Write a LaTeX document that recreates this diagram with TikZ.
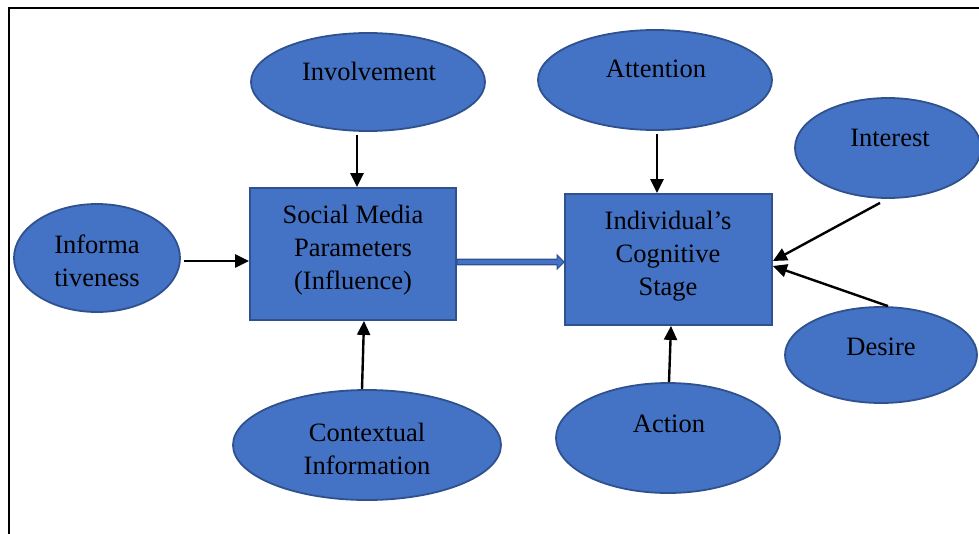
\documentclass[tikz,border=0pt]{standalone}
\usepackage{fontspec}
\setmainfont{Liberation Serif}
\usetikzlibrary{shapes.geometric,arrows.meta,calc}
\definecolor{fillblue}{HTML}{4472C4}
\definecolor{edgeblue}{HTML}{2F528F}
\tikzset{
  oval/.style={ellipse, draw=edgeblue, fill=fillblue, line width=1.8pt, inner sep=0pt},
  blockbox/.style={rectangle, draw=edgeblue, fill=fillblue, line width=1.8pt, inner sep=0pt},
  txt/.style={align=center, font=\fontsize{26.5}{33}\selectfont, text=black, inner sep=0pt},
  arr/.style={line width=2.4pt, -{Triangle[length=14pt,width=13pt]}}
}
\begin{document}
\begin{tikzpicture}[x=1pt,y=-1pt]
\useasboundingbox (0,0) rectangle (979,533);
\draw[line width=2.4pt] (9,534) -- (9,8) -- (980,8);

% ellipses
\node[oval, minimum width=234, minimum height=98] (inv) at (368,82) {};
\node[oval, minimum width=234, minimum height=100] (att) at (655,80) {};
\node[oval, minimum width=186, minimum height=100] (int) at (888,148) {};
\node[oval, minimum width=166, minimum height=108] (info) at (97,258) {};
\node[oval, minimum width=268, minimum height=110] (ctx) at (367,445) {};
\node[oval, minimum width=224, minimum height=110] (act) at (668,438) {};
\node[oval, minimum width=192, minimum height=96] (des) at (881,355) {};

% boxes
\node[blockbox, minimum width=206, minimum height=132] (smp) at (353,254) {};
\node[blockbox, minimum width=207, minimum height=131] (ics) at (668.5,259.5) {};

% texts
\node[txt] (tinv) at (369,71) {Involvement};
\node[txt] (tatt) at (656,69) {Attention};
\node[txt] (tint) at (890,138) {Interest};
\node[txt] (tinfo) at (97,261) {Informa\\tiveness};
\node[txt] (tsmp) at (353,250) {Social Media\\Parameters\\(Influence)};
\node[txt] (tics) at (668,256) {Individual’s\\Cognitive\\Stage};
\node[txt] (tctx) at (367,449) {Contextual\\Information};
\node[txt] (tact) at (669,424) {Action};
\node[txt] (tdes) at (881,347) {Desire};

% arrows
\draw[arr] ($(inv.south)+(-11,3)$) -- ($(smp.north)+(4,0)$);
\draw[arr] ($(info.east)+(3,3)$) -- ($(smp.west)+(0,7)$);
\draw[arr] ($(ctx.north)+(-5,0)$) -- ($(smp.south)+(11,0)$);
\draw[arr] ($(att.south)+(2,3)$) -- ($(ics.north)+(-11.5,0)$);
\draw[arr] ($(int.south)+(-8,4)$) -- ($(ics.east)+(0,1.5)$);
\draw[arr] ($(des.north)+(7,0)$) -- ($(ics.east)+(0,6.5)$);
\draw[arr] ($(act.north)+(1,0)$) -- ($(ics.south)+(2.5,0)$);

% double arrow
\coordinate (da) at ($(smp.east)+(0,8)$);
\coordinate (db) at ($(ics.west)+(0,2.5)$);
\draw[edgeblue, fill=fillblue, line width=1.2pt, line join=miter]
  ($(da)+(0,-2.8)$) -- ($(db)+(-7,-2.8)$) -- ($(db)+(-7,-7)$) -- (db)
  -- ($(db)+(-7,7)$) -- ($(db)+(-7,2.8)$) -- ($(da)+(0,2.8)$) -- cycle;
\end{tikzpicture}
\end{document}
